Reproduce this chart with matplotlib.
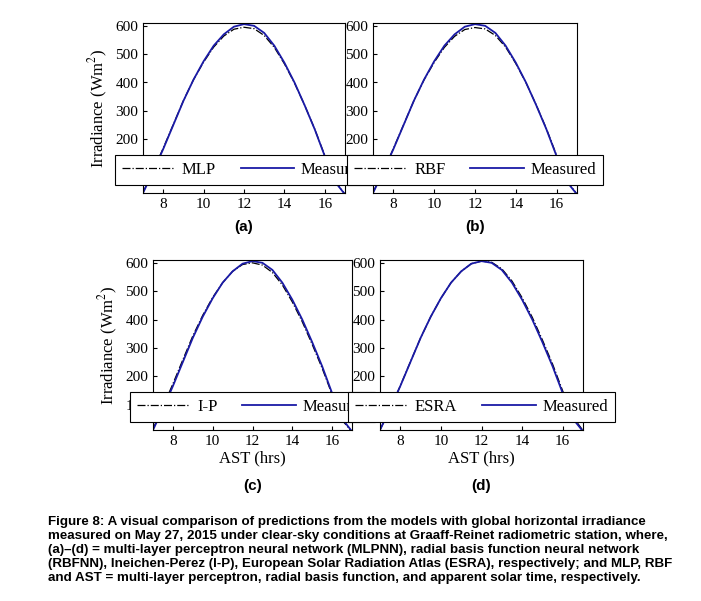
import matplotlib.pyplot as plt

hours = [7, 7.5, 8, 8.5, 9, 9.5, 10, 10.5, 11, 11.5, 12, 12.5, 13, 13.5, 14, 14.5, 15, 15.5, 16, 16.5, 17]
measured = [10, 85, 165, 250, 335, 410, 475, 530, 570, 597, 606, 600, 575, 530, 470, 400, 320, 235, 140, 50, 5]
mlp = [12, 88, 168, 252, 336, 410, 472, 525, 564, 588, 595, 590, 566, 524, 466, 398, 320, 236, 142, 52, 6]
rbf = [12, 87, 167, 251, 335, 409, 471, 524, 563, 587, 594, 589, 566, 525, 467, 399, 321, 237, 143, 53, 6]
ip = [14, 92, 173, 258, 342, 415, 478, 530, 570, 594, 600, 592, 566, 522, 462, 392, 312, 228, 135, 45, 3]
esra = [10, 86, 166, 251, 335, 410, 475, 530, 570, 597, 606, 602, 579, 536, 477, 408, 328, 243, 148, 57, 8]

models = [("MLP", mlp, "(a)"), ("RBF", rbf, "(b)"), ("I-P", ip, "(c)"), ("ESRA", esra, "(d)")]
# axes rectangles in figure fractions (left, bottom, width, height)
rects = [(143/701, 1-193/601, 202/701, 170/601), (373/701, 1-193/601, 204/701, 170/601),
         (153/701, 1-430/601, 199/701, 170/601), (380/701, 1-430/601, 203/701, 170/601)]

plt.rcParams['font.family'] = 'Liberation Serif'
plt.rcParams['mathtext.fontset'] = 'stix'
fig = plt.figure(figsize=(7.01, 6.01), dpi=100)
for i, (name, vals, lab) in enumerate(models):
    ax = fig.add_axes(rects[i])
    ax.plot(hours, vals, color='black', linestyle='-.', linewidth=0.9, label=name)
    ax.plot(hours, measured, color='#1a1aa6', linewidth=1.3, label='Measured')
    ax.set_xlim(7, 17)
    ax.set_ylim(10, 610)
    ax.set_xticks([8, 10, 12, 14, 16])
    ax.set_yticks([100, 200, 300, 400, 500, 600])
    ax.tick_params(labelsize=11, direction='in', length=3)
    if i in (0, 2):
        ax.set_ylabel('Irradiance (Wm$^{2}$)', fontsize=12)
    if i >= 2:
        ax.set_xlabel('AST (hrs)', fontsize=12, labelpad=2)
    leg = ax.legend(loc='lower center', ncol=2, fontsize=12, fancybox=False,
                    edgecolor='black', framealpha=1, handlelength=3.2,
                    borderaxespad=0.5, columnspacing=1.5, handletextpad=0.4)
    leg.get_frame().set_linewidth(0.8)
    ypos = -0.2 if i < 2 else -0.33
    ax.text(0.5, ypos, lab, transform=ax.transAxes, ha='center', va='center',
            fontsize=11, fontweight='bold', family='Liberation Sans')

caption = ("Figure 8: A visual comparison of predictions from the models with global horizontal irradiance\n"
           "measured on May 27, 2015 under clear-sky conditions at Graaff-Reinet radiometric station, where,\n"
           "(a)\u2013(d) = multi-layer perceptron neural network (MLPNN), radial basis function neural network\n"
           "(RBFNN), Ineichen-Perez (I-P), European Solar Radiation Atlas (ESRA), respectively; and MLP, RBF\n"
           "and AST = multi-layer perceptron, radial basis function, and apparent solar time, respectively.")
fig.text(48/701, 1-550/601, caption, ha='left', va='center', fontsize=9.6,
         fontweight='bold', family='Liberation Sans', linespacing=1.25)
fig.savefig('out.png', dpi=100)
